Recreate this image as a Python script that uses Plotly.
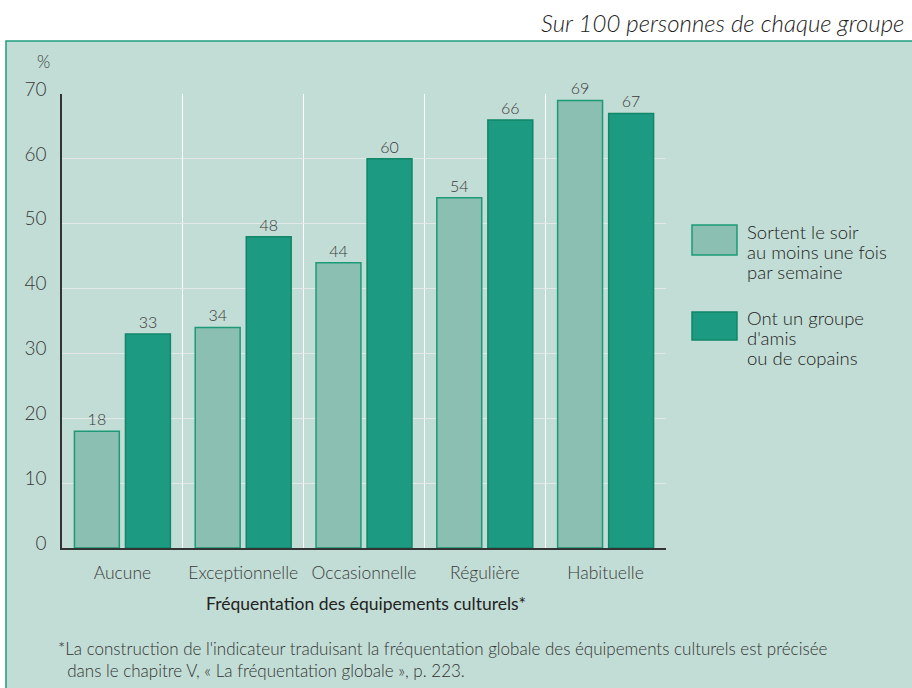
import plotly.graph_objects as go

categories = ["Aucune", "Exceptionnelle", "Occasionnelle", "Régulière", "Habituelle"]
sortent_soir = [18, 34, 44, 54, 69]
groupe_amis = [33, 48, 60, 66, 67]
y_ticks = [0, 10, 20, 30, 40, 50, 60, 70]
legend_lines = [["Sortent le soir", "au moins une fois", "par semaine"],
                ["Ont un groupe", "d'amis", "ou de copains"]]
footnote_lines = ["*La construction de l'indicateur traduisant la fréquentation globale des équipements culturels est précisée",
                  "  dans le chapitre V, « La fréquentation globale », p. 223."]

BG = "#c2ddd5"
LIGHT = "#8abfb1"
LIGHT_EDGE = "#1c9a78"
DARK = "#1d9a82"
DARK_EDGE = "#118668"
TXT = "#3a3a3a"
FONT = "Lato"
WT = 300

W, H = 912, 688
L, R, T, B = 62, 246, 94, 140
pw, ph = W - L - R, H - T - B

def px(x):
    return (x - L) / pw

def py(y):
    return (H - B - y) / ph

def f(size, color=TXT, weight=WT):
    return dict(family=FONT, size=size, color=color, weight=weight)

fig = go.Figure()
fig.add_bar(x=categories, y=sortent_soir, name="s1",
            marker=dict(color=LIGHT, line=dict(color=LIGHT_EDGE, width=1.5)),
            text=sortent_soir, textposition="outside",
            textfont=f(16), cliponaxis=False)
fig.add_bar(x=categories, y=groupe_amis, name="s2",
            marker=dict(color=DARK, line=dict(color=DARK_EDGE, width=1.5)),
            text=groupe_amis, textposition="outside",
            textfont=f(16), cliponaxis=False)

shapes = [
    dict(type="rect", xref="paper", yref="paper", layer="below",
         x0=px(6), x1=px(915), y0=py(41), y1=py(692),
         fillcolor=BG, line=dict(color="#1f9e7e", width=1.5)),
    dict(type="rect", xref="paper", yref="paper",
         x0=px(692), x1=px(737), y0=py(225), y1=py(255),
         fillcolor=LIGHT, line=dict(color=LIGHT_EDGE, width=1.5)),
    dict(type="rect", xref="paper", yref="paper",
         x0=px(692), x1=px(737), y0=py(312), y1=py(340),
         fillcolor=DARK, line=dict(color=DARK_EDGE, width=1.5)),
]

annotations = [
    dict(text="<i>Sur 100 personnes de chaque groupe</i>", xref="paper", yref="paper",
         x=px(906), y=py(22), xanchor="right", yanchor="middle", showarrow=False,
         font=f(24, "#222", 300)),
    dict(text="%", xref="paper", yref="paper", x=px(43), y=py(62),
         xanchor="center", yanchor="middle", showarrow=False, font=f(17)),
    dict(text="Fréquentation des équipements culturels*", xref="paper", yref="paper",
         x=px(366), y=py(603), xanchor="center", yanchor="middle", showarrow=False,
         font=f(17.5, "#222", 400)),
    dict(text="<br>".join(footnote_lines), xref="paper", yref="paper", x=px(56), y=py(659),
         xanchor="left", yanchor="middle", align="left", showarrow=False,
         font=f(17, "#333")),
]
for block, y0 in zip(legend_lines, [232, 318]):
    for i, line in enumerate(block):
        annotations.append(dict(text=line, xref="paper", yref="paper", x=px(745), y=py(y0 + 20 * i),
                                xanchor="left", yanchor="middle", showarrow=False,
                                font=f(18.5, "#222")))

fig.update_layout(
    width=W, height=H,
    margin=dict(l=L, r=R, t=T, b=B, pad=0),
    paper_bgcolor="white",
    plot_bgcolor="rgba(0,0,0,0)",
    barmode="group", bargap=0.155, bargroupgap=0.12,
    showlegend=False,
    shapes=shapes, annotations=annotations,
    font=dict(family=FONT, color=TXT),
    xaxis=dict(tickson="boundaries", showgrid=True, gridcolor="white", gridwidth=1,
               ticks="", showline=True, linecolor="#333", linewidth=1.5,
               tickfont=f(17.5), ticklabelstandoff=8),
    yaxis=dict(range=[0, 70], tickvals=y_ticks, showgrid=True, gridcolor="#e4e8e6", gridwidth=1,
               showline=True, linecolor="#333", linewidth=1.5, ticks="", zeroline=False,
               tickfont=f(19), ticklabelstandoff=10, ticklabelshift=-5),
)

fig.write_html("out.html", config={"displayModeBar": False},
               post_script="document.body.style.margin='0';document.body.style.overflow='hidden';")
